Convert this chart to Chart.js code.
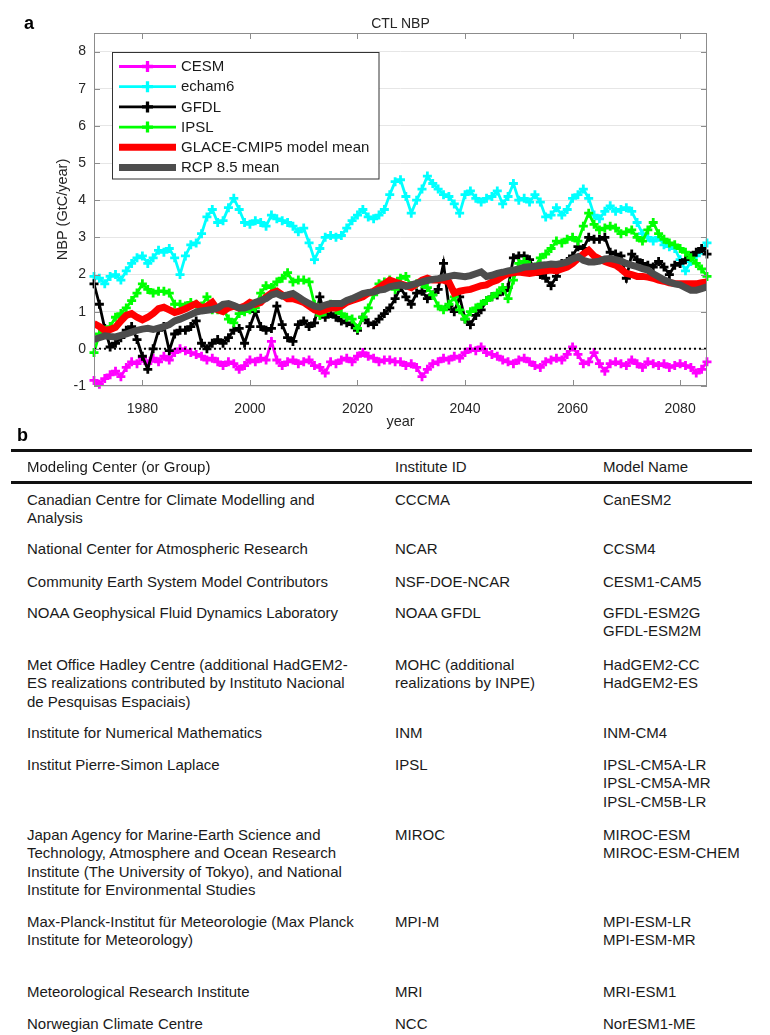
<!DOCTYPE html>
<html>
<head>
<meta charset="utf-8">
<title>CTL NBP</title>
<script src="https://cdn.jsdelivr.net/npm/chart.js@4.4.1/dist/chart.umd.min.js"></script>
<style>
  body { margin: 0; background: #fff; font-family: Arial, "Liberation Sans", sans-serif; color: #1a1a1a; }
  #page { position: relative; width: 770px; height: 1035px; overflow: hidden; }
  #chartBox { position: absolute; left: 0; top: 0; width: 770px; height: 440px; }
  .panel { position: absolute; font-weight: bold; font-size: 18px; line-height: 20px; color: #000; }
  .plot-title { position: absolute; top: 14px; left: 300px; width: 201px; text-align: center;
                font-size: 14px; line-height: 18px; color: #262626; }
  .rule { position: absolute; left: 11px; width: 741px; height: 2.5px; background: #111; }
  .row { position: absolute; left: 0; width: 770px; font-size: 15px; line-height: 18.3px; }
  .row span { position: absolute; top: 0; white-space: nowrap; }
  .c1 { left: 27px; }
  .c2 { left: 395px; }
  .c3 { left: 603px; }
</style>
</head>
<body>
<div id="page">
  <div id="chartBox"><canvas id="nbpChart" width="770" height="440"></canvas></div>
  <div class="panel" style="left:24px; top:13px;">a</div>
  <div class="plot-title">CTL NBP</div>

  <div class="panel" style="left:17px; top:425px;">b</div>
  <div class="rule" style="top:449px;"></div>
  <div class="row" style="top:457.5px;"><span class="c1">Modeling Center (or Group)</span><span class="c2">Institute ID</span><span class="c3">Model Name</span></div>
  <div class="rule" style="top:481px;"></div>
  <div class="row" style="top:491px;"><span class="c1">Canadian Centre for Climate Modelling and<br>Analysis</span><span class="c2">CCCMA</span><span class="c3">CanESM2</span></div>
  <div class="row" style="top:540px;"><span class="c1">National Center for Atmospheric Research</span><span class="c2">NCAR</span><span class="c3">CCSM4</span></div>
  <div class="row" style="top:573px;"><span class="c1">Community Earth System Model Contributors</span><span class="c2">NSF-DOE-NCAR</span><span class="c3">CESM1-CAM5</span></div>
  <div class="row" style="top:604px;"><span class="c1">NOAA Geophysical Fluid Dynamics Laboratory</span><span class="c2">NOAA GFDL</span><span class="c3">GFDL-ESM2G<br>GFDL-ESM2M</span></div>
  <div class="row" style="top:656px;"><span class="c1">Met Office Hadley Centre (additional HadGEM2-<br>ES realizations contributed by Instituto Nacional<br>de Pesquisas Espaciais)</span><span class="c2">MOHC (additional<br>realizations by INPE)</span><span class="c3">HadGEM2-CC<br>HadGEM2-ES</span></div>
  <div class="row" style="top:724px;"><span class="c1">Institute for Numerical Mathematics</span><span class="c2">INM</span><span class="c3">INM-CM4</span></div>
  <div class="row" style="top:756px;"><span class="c1">Institut Pierre-Simon Laplace</span><span class="c2">IPSL</span><span class="c3">IPSL-CM5A-LR<br>IPSL-CM5A-MR<br>IPSL-CM5B-LR</span></div>
  <div class="row" style="top:826px;"><span class="c1">Japan Agency for Marine-Earth Science and<br>Technology, Atmosphere and Ocean Research<br>Institute (The University of Tokyo), and National<br>Institute for Environmental Studies</span><span class="c2">MIROC</span><span class="c3">MIROC-ESM<br>MIROC-ESM-CHEM</span></div>
  <div class="row" style="top:912.5px;"><span class="c1">Max-Planck-Institut für Meteorologie (Max Planck<br>Institute for Meteorology)</span><span class="c2">MPI-M</span><span class="c3">MPI-ESM-LR<br>MPI-ESM-MR</span></div>
  <div class="row" style="top:982.5px;"><span class="c1">Meteorological Research Institute</span><span class="c2">MRI</span><span class="c3">MRI-ESM1</span></div>
  <div class="row" style="top:1015px;"><span class="c1">Norwegian Climate Centre</span><span class="c2">NCC</span><span class="c3">NorESM1-ME</span></div>
</div>

<script>
// years 1971..2085
const years = [];
for (let y = 1971; y <= 2085; y++) years.push(y);

const xTickStep = 20;
const yTickValues = [-1, 0, 1, 2, 3, 4, 5, 6, 7, 8];

// NBP (GtC/year)
const cesm = [
  -0.85, -0.95, -0.8, -0.7, -0.6, -0.75, -0.5, -0.35, -0.4, -0.25,
  -0.4, -0.25, -0.35, -0.2, -0.3, -0.1, 0.0, -0.05, -0.1, -0.15,
  -0.2, -0.3, -0.25, -0.35, -0.45, -0.35, -0.4, -0.55, -0.45, -0.3,
  -0.35, -0.25, -0.3, 0.2, -0.3, -0.45, -0.35, -0.3, -0.4, -0.35,
  -0.3, -0.45, -0.5, -0.65, -0.35, -0.4, -0.3, -0.25, -0.35, -0.2,
  -0.1, -0.2, -0.25, -0.35, -0.3, -0.3, -0.35, -0.35, -0.45, -0.4,
  -0.5, -0.75, -0.55, -0.4, -0.35, -0.25, -0.3, -0.2, -0.25, -0.1,
  0.0, -0.05, 0.05, -0.1, -0.15, -0.2, -0.3, -0.35, -0.4, -0.3,
  -0.25, -0.35, -0.45, -0.5, -0.35, -0.3, -0.25, -0.3, -0.15, 0.05,
  -0.15, -0.4, -0.35, -0.1, -0.4, -0.6, -0.4, -0.35, -0.4, -0.45,
  -0.3, -0.4, -0.5, -0.35, -0.4, -0.45, -0.4, -0.5, -0.45, -0.4,
  -0.45, -0.5, -0.65, -0.55, -0.35
];
const echam6 = [
  1.95, 1.9, 1.75, 1.95, 2.0, 1.85, 2.1, 2.3, 2.45, 2.5,
  2.3, 2.45, 2.65, 2.6, 2.7, 2.45, 2.0, 2.5, 2.8, 2.85,
  3.1, 3.55, 3.75, 3.4, 3.45, 3.8, 4.05, 3.75, 3.4, 3.35,
  3.45, 3.4, 3.3, 3.6, 3.5, 3.45, 3.4, 3.3, 3.15, 3.25,
  2.85, 2.4, 2.7, 3.0, 3.05, 3.0, 3.05, 3.25, 3.45, 3.6,
  3.75, 3.55, 3.5, 3.6, 3.75, 4.15, 4.5, 4.55, 4.1, 3.65,
  4.0, 4.3, 4.65, 4.45, 4.3, 4.15, 4.1, 3.9, 3.65, 4.15,
  4.25, 4.05, 3.95, 4.05, 4.1, 4.25, 3.9, 4.1, 4.45, 4.0,
  4.05, 3.95, 4.15, 3.95, 3.55, 3.6, 3.8, 3.6, 3.75, 4.05,
  4.15, 4.3, 4.05, 3.6, 3.5, 3.7, 3.85, 3.7, 3.75, 3.8,
  3.7, 3.4, 3.1, 3.0, 2.9, 3.0, 2.8, 2.75, 2.7, 2.4,
  2.1, 2.35, 2.5, 2.65, 2.85
];
const gfdl = [
  1.75, 1.2, 0.55, 0.05, 0.15, 0.3, 0.5, 0.6, 0.25, -0.2,
  -0.55, 0.0, 0.5, 0.6, -0.05, 0.4, 0.5, 0.5, 0.6, 0.75,
  0.15, 0.0, 0.15, 0.25, 0.15, 0.3, 0.5, 0.55, 0.15, 0.6,
  1.0, 0.6, 0.5, 0.55, 1.15, 0.65, 0.3, 0.2, 0.65, 0.75,
  0.6, 0.7, 1.4, 0.85, 0.95, 0.85, 0.75, 0.7, 0.65, 0.5,
  0.85, 0.7, 0.65, 0.8, 0.95, 1.1, 1.35, 1.65, 1.4, 1.2,
  1.5, 1.55, 1.35, 1.45, 1.6, 2.3, 1.15, 1.0, 1.4, 0.8,
  0.65, 0.9, 1.05, 1.3, 1.4, 1.45, 1.55, 1.65, 2.45, 2.5,
  2.5, 2.4, 2.1, 2.0, 1.9, 1.7, 1.95, 2.3, 2.35, 2.5,
  2.75, 2.7, 3.0, 2.95, 2.95, 3.0, 2.6, 2.55, 2.5, 1.9,
  2.55, 2.4, 2.3, 2.25, 2.2, 2.35, 2.2, 2.0, 2.25, 2.3,
  2.4, 2.5, 2.6, 2.7, 2.55
];
const ipsl = [
  -0.1, 0.4, 0.5, 0.6, 0.85, 0.95, 1.1, 1.3, 1.5, 1.75,
  1.6, 1.5, 1.55, 1.55, 1.5, 1.2, 1.2, 1.15, 1.25, 1.2,
  1.15, 1.4, 1.05, 1.05, 1.1, 0.8, 0.7, 0.95, 1.0, 1.05,
  1.1, 1.5, 1.7, 1.65, 1.8, 1.9, 2.05, 1.8, 1.85, 1.85,
  1.8, 1.2, 0.9, 1.0, 1.2, 1.05, 0.95, 0.85, 0.8, 0.55,
  0.85, 1.1, 1.45, 1.75, 1.8, 1.85, 1.6, 1.9, 1.95, 1.7,
  1.75, 1.75, 1.65, 1.45, 1.15, 1.05, 1.2, 1.4, 1.05, 0.8,
  1.0, 1.1, 1.2, 1.3, 1.4, 1.5, 1.65, 1.35, 1.85, 2.3,
  2.35, 2.25, 2.2, 2.45, 2.55, 2.7, 2.9, 2.85, 2.95, 3.0,
  2.9, 3.3, 3.65, 3.35, 3.2, 3.25, 3.3, 3.25, 3.1, 3.15,
  3.2, 3.0, 2.9, 3.2, 3.4, 3.1, 2.95, 2.85, 2.8, 2.7,
  2.6, 2.45, 2.3, 2.15, 1.95
];
const glaceMean = [
  0.68, 0.6, 0.5, 0.52, 0.58, 0.75, 0.9, 0.95, 0.85, 0.78,
  0.85, 0.95, 1.08, 1.12, 1.05, 0.98, 1.02, 1.08, 1.15, 1.22,
  1.1, 1.15, 1.25, 1.05, 1.0, 1.1, 1.15, 1.1, 1.15, 1.25,
  1.2, 1.25, 1.4, 1.5, 1.55, 1.45, 1.35, 1.35, 1.3, 1.25,
  1.15, 1.05, 1.0, 1.05, 1.1, 1.1, 1.15, 1.25, 1.3, 1.35,
  1.4, 1.5, 1.55, 1.65, 1.75, 1.85, 1.8, 1.75, 1.7, 1.65,
  1.75, 1.85, 1.9, 1.85, 1.85, 1.85, 1.8, 1.5, 1.55, 1.58,
  1.6, 1.65, 1.7, 1.72, 1.8, 1.85, 1.95, 2.03, 2.05, 2.07,
  2.05, 2.03, 2.05, 2.08, 2.1, 2.12, 2.1, 2.15, 2.2, 2.3,
  2.43, 2.55, 2.65, 2.5, 2.42, 2.35, 2.3, 2.25, 2.15, 2.03,
  2.0, 1.95, 1.95, 1.93, 1.9, 1.85, 1.82, 1.78, 1.76, 1.75,
  1.75, 1.75, 1.75, 1.78, 1.8
];
const rcpMean = [
  0.25, 0.3, 0.35, 0.33, 0.32, 0.36, 0.4, 0.45, 0.5, 0.53,
  0.55, 0.52, 0.56, 0.6, 0.65, 0.75, 0.8, 0.86, 0.92, 0.99,
  1.02, 1.04, 1.06, 1.1, 1.2, 1.22, 1.17, 1.1, 1.1, 1.15,
  1.25, 1.3, 1.35, 1.45, 1.49, 1.42, 1.45, 1.49, 1.4, 1.3,
  1.22, 1.15, 1.12, 1.18, 1.22, 1.22, 1.22, 1.3, 1.35, 1.42,
  1.49, 1.52, 1.53, 1.58, 1.6, 1.67, 1.7, 1.72, 1.68, 1.72,
  1.76, 1.8, 1.84, 1.87, 1.89, 1.92, 1.95, 1.98, 1.96, 1.94,
  1.97, 2.02, 2.07, 1.95, 1.98, 2.03, 2.06, 2.1, 2.12, 2.15,
  2.2, 2.21, 2.22, 2.25, 2.26, 2.28, 2.27, 2.3, 2.34, 2.42,
  2.48, 2.38, 2.34, 2.34, 2.36, 2.42, 2.43, 2.4, 2.36, 2.3,
  2.25, 2.21, 2.16, 2.12, 2.02, 1.94, 1.86, 1.8, 1.75, 1.72,
  1.65, 1.58, 1.58, 1.62, 1.67
];

// dotted zero reference line
const zeroYears = [1971, 2085];
const zeroValues = [0, 0];

const FONT = 'Arial, "Liberation Sans", sans-serif';
Chart.defaults.font.family = FONT;
Chart.defaults.color = '#262626';

function markerSeries(label, data, color, order) {
    return {
        label: label,
        data: data,
        borderColor: color,
        backgroundColor: color,
        borderWidth: 2.8,
        pointStyle: 'cross',
        pointRadius: 4.5,
        pointBorderWidth: 2.8,
        pointBorderColor: color,
        order: order,
        clip: false,
        inLegend: true,
    };
}

function meanSeries(label, data, color, order) {
    return {
        label: label,
        data: data,
        borderColor: color,
        backgroundColor: color,
        borderWidth: 7,
        pointRadius: 0,
        order: order,
        inLegend: true,
    };
}

// box, inward tick marks (matlab style)
const axesBox = {
    id: 'axesBox',
    afterDatasetsDraw(chart) {
        const { ctx, chartArea: a, scales } = chart;
        ctx.save();
        ctx.strokeStyle = '#8c8c8c';
        ctx.lineWidth = 1;
        ctx.strokeRect(a.left + 0.5, a.top + 0.5, a.right - a.left - 1, a.bottom - a.top - 1);
        ctx.beginPath();
        scales.x.ticks.forEach((t) => {
            const px = Math.round(scales.x.getPixelForValue(t.value)) + 0.5;
            ctx.moveTo(px, a.bottom);
            ctx.lineTo(px, a.bottom - 6);
            ctx.moveTo(px, a.top);
            ctx.lineTo(px, a.top + 6);
        });
        scales.y.ticks.forEach((t) => {
            const py = Math.round(scales.y.getPixelForValue(t.value)) + 0.5;
            ctx.moveTo(a.left, py);
            ctx.lineTo(a.left + 6, py);
            ctx.moveTo(a.right, py);
            ctx.lineTo(a.right - 6, py);
        });
        ctx.stroke();
        ctx.restore();
    },
};

// legend drawn inside the axes, upper left
const legendInside = {
    id: 'legendInside',
    afterDatasetsDraw(chart) {
        const { ctx, chartArea: a } = chart;
        const items = chart.data.datasets.filter((d) => d.inLegend);
        const bx = a.left + 18.5;
        const by = a.top + 19.5;
        ctx.save();
        ctx.fillStyle = '#fff';
        ctx.fillRect(bx, by, 266.5, 126.5);
        ctx.strokeStyle = '#333';
        ctx.lineWidth = 1;
        ctx.strokeRect(bx, by, 266.5, 126.5);
        ctx.font = '15px ' + FONT;
        ctx.textBaseline = 'middle';
        items.forEach((d, i) => {
            const cy = a.top + 33.5 + i * 20.2;
            const x0 = a.left + 25;
            const x1 = a.left + 82;
            ctx.strokeStyle = d.borderColor;
            ctx.lineWidth = d.borderWidth;
            ctx.beginPath();
            ctx.moveTo(x0, cy);
            ctx.lineTo(x1, cy);
            ctx.stroke();
            if (d.pointRadius > 0) {
                const cx = (x0 + x1) / 2;
                const r = d.pointRadius + 1;
                ctx.lineWidth = d.pointBorderWidth + 0.5;
                ctx.beginPath();
                ctx.moveTo(cx - r, cy);
                ctx.lineTo(cx + r, cy);
                ctx.moveTo(cx, cy - r);
                ctx.lineTo(cx, cy + r);
                ctx.stroke();
            }
            ctx.fillStyle = '#1a1a1a';
            ctx.fillText(d.label, a.left + 87, cy + 0.5);
        });
        ctx.restore();
    },
};

new Chart(document.getElementById('nbpChart'), {
    type: 'line',
    data: {
        labels: years,
        datasets: [
            markerSeries('CESM', cesm, '#ff00ff', 5),
            markerSeries('echam6', echam6, '#00ffff', 4),
            markerSeries('GFDL', gfdl, '#000000', 3),
            markerSeries('IPSL', ipsl, '#00ff00', 2),
            meanSeries('GLACE-CMIP5 model mean', glaceMean, '#ff0000', 1),
            meanSeries('RCP 8.5 mean', rcpMean, '#4d4d4d', 0),
            {
                label: 'zero',
                data: zeroYears.map((yr, i) => ({ x: yr, y: zeroValues[i] })),
                borderColor: '#000',
                borderWidth: 2,
                borderDash: [2, 3],
                pointRadius: 0,
                order: -1,
            },
        ],
    },
    options: {
        responsive: false,
        animation: false,
        layout: { padding: { left: 0, right: 63, top: 33, bottom: 0 } },
        plugins: {
            legend: { display: false },
            tooltip: { enabled: false },
        },
        elements: { line: { tension: 0 } },
        scales: {
            x: {
                type: 'linear',
                min: years[0],
                max: years[years.length - 1],
                afterFit: (scale) => { scale.height = 54; },
                grid: { display: false },
                border: { display: false },
                ticks: {
                    stepSize: xTickStep,
                    includeBounds: false,
                    padding: 7,
                    font: { size: 14 },
                    callback: (v) => String(v),
                },
                title: { display: true, text: 'year', font: { size: 14.5 }, padding: { top: 0, bottom: 9 } },
            },
            y: {
                min: yTickValues[0],
                max: 8.5,
                afterFit: (scale) => { scale.width = 94; },
                grid: { color: '#e6e6e6', lineWidth: 1, drawTicks: false },
                border: { display: false },
                ticks: {
                    stepSize: 1,
                    includeBounds: false,
                    padding: 8,
                    font: { size: 14 },
                },
                title: { display: true, text: 'NBP (GtC/year)', font: { size: 14.5 }, padding: { top: 54, bottom: 0 } },
            },
        },
    },
    plugins: [axesBox, legendInside],
});
</script>
</body>
</html>
